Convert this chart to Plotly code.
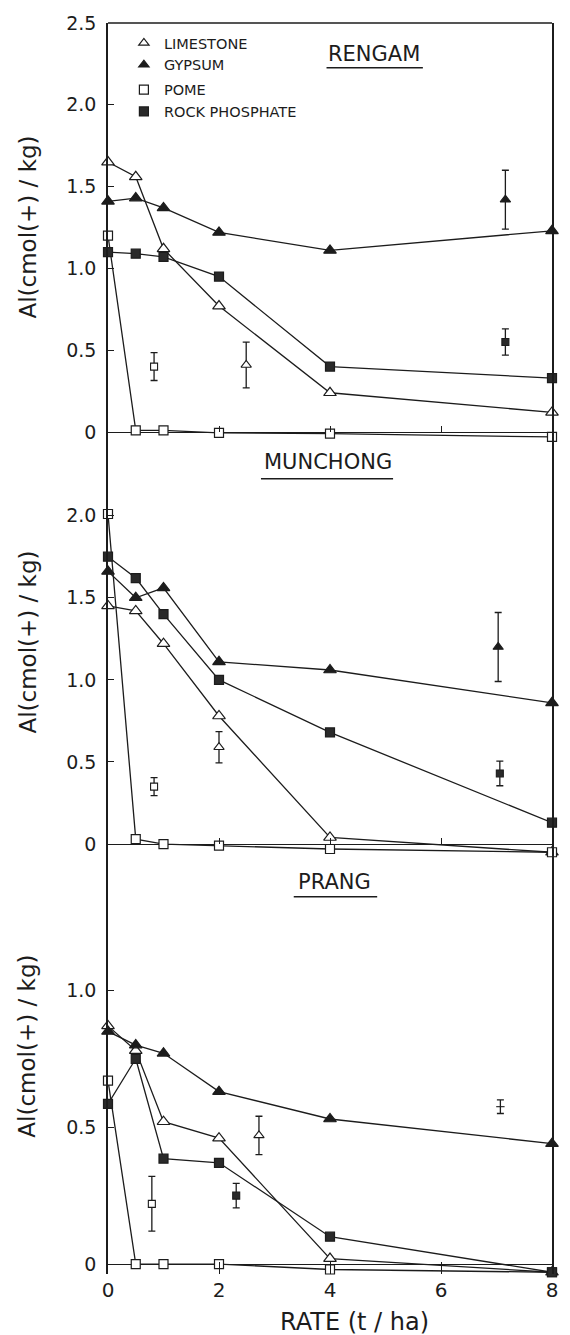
import plotly.graph_objects as go

# ---------------- data ----------------
rate = [0, 0.5, 1, 2, 4, 8]
series_names = ["LIMESTONE", "GYPSUM", "POME", "ROCK PHOSPHATE"]

rengam_limestone = [1.65, 1.56, 1.12, 0.77, 0.24, 0.12]
rengam_gypsum = [1.41, 1.43, 1.37, 1.22, 1.11, 1.23]
rengam_pome = [1.20, 0.01, 0.01, -0.005, -0.01, -0.03]
rengam_rock_phosphate = [1.10, 1.09, 1.07, 0.95, 0.40, 0.33]

munchong_limestone = [1.45, 1.42, 1.22, 0.78, 0.04, -0.05]
munchong_gypsum = [1.66, 1.50, 1.56, 1.11, 1.06, 0.86]
munchong_pome = [2.01, 0.03, 0.00, -0.01, -0.03, -0.05]
munchong_rock_phosphate = [1.75, 1.62, 1.40, 1.00, 0.68, 0.13]

prang_limestone = [0.87, 0.78, 0.52, 0.46, 0.02, -0.03]
prang_gypsum = [0.85, 0.80, 0.77, 0.63, 0.53, 0.44]
prang_pome = [0.67, 0.00, 0.00, 0.00, -0.02, -0.03]
prang_rock_phosphate = [0.585, 0.75, 0.385, 0.37, 0.10, -0.03]

# isolated points with error bars
rengam_bar_series = ["POME", "LIMESTONE", "GYPSUM", "ROCK PHOSPHATE"]
rengam_bar_x = [0.83, 2.49, 7.16, 7.16]
rengam_bar_y = [0.40, 0.41, 1.42, 0.55]
rengam_bar_err = [0.085, 0.14, 0.18, 0.08]

munchong_bar_series = ["POME", "LIMESTONE", "GYPSUM", "ROCK PHOSPHATE"]
munchong_bar_x = [0.83, 2.0, 7.03, 7.06]
munchong_bar_y = [0.35, 0.59, 1.20, 0.43]
munchong_bar_err = [0.055, 0.095, 0.21, 0.075]

prang_bar_series = ["POME", "ROCK PHOSPHATE", "LIMESTONE", "NONE"]
prang_bar_x = [0.79, 2.31, 2.72, 7.07]
prang_bar_y = [0.22, 0.25, 0.47, 0.575]
prang_bar_err = [0.10, 0.045, 0.07, 0.025]

rengam_ticks = [0, 0.5, 1.0, 1.5, 2.0, 2.5]
rengam_ticktext = ["0", "0.5", "1.0", "1.5", "2.0", "2.5"]
munchong_ticks = [0, 0.5, 1.0, 1.5, 2.0]
munchong_ticktext = ["0", "0.5", "1.0", "1.5", "2.0"]
prang_ticks = [0, 0.5, 1.0]
prang_ticktext = ["0", "0.5", "1.0"]
x_ticks = [0, 2, 4, 6, 8]
x_ticktext = ["0", "2", "4", "6", "8"]

# ---------------- layout geometry (pixels) ----------------
W, H = 570, 1335
LEFT, RIGHT = 108, 555
TOP, BOTTOM = 17, 1274
INK = "#1c1c1c"
FONT = "DejaVu Sans"


def yp(px):
    return (BOTTOM - px) / (BOTTOM - TOP)


def xp(px):
    return (px - LEFT) / (RIGHT - LEFT)


panels = [
    dict(title="RENGAM", top=17, bottom=440, zero=428, scale=164.4,
         data=[rengam_limestone, rengam_gypsum, rengam_pome, rengam_rock_phosphate],
         bs=rengam_bar_series, bx=rengam_bar_x, by=rengam_bar_y, be=rengam_bar_err,
         tv=rengam_ticks, tt=rengam_ticktext,
         tpos=(376, 48), ul=(328, 425, 62), ytitle=222),
    dict(title="MUNCHONG", top=440, bottom=855, zero=842, scale=165.0,
         data=[munchong_limestone, munchong_gypsum, munchong_pome, munchong_rock_phosphate],
         bs=munchong_bar_series, bx=munchong_bar_x, by=munchong_bar_y, be=munchong_bar_err,
         tv=munchong_ticks, tt=munchong_ticktext,
         tpos=(329, 458), ul=(262, 395, 475), ytitle=639),
    dict(title="PRANG", top=855, bottom=1274, zero=1264, scale=275.0,
         data=[prang_limestone, prang_gypsum, prang_pome, prang_rock_phosphate],
         bs=prang_bar_series, bx=prang_bar_x, by=prang_bar_y, be=prang_bar_err,
         tv=prang_ticks, tt=prang_ticktext,
         tpos=(336, 880), ul=(295, 379, 895), ytitle=1045),
]

style = {
    "LIMESTONE": dict(symbol="triangle-up", color="white", size=11),
    "GYPSUM": dict(symbol="triangle-up", color=INK, size=11),
    "POME": dict(symbol="square", color="white", size=9),
    "ROCK PHOSPHATE": dict(symbol="square", color="#2a2a2a", size=9),
    "NONE": dict(symbol="line-ew", color=INK, size=0),
}

fig = go.Figure()
annotations = []
shapes = []
layout_axes = {}

for i, p in enumerate(panels):
    n = i + 1
    xa = "x" if n == 1 else f"x{n}"
    ya = "y" if n == 1 else f"y{n}"
    for name, vals in zip(series_names, p["data"]):
        st = style[name]
        fig.add_trace(go.Scatter(
            x=rate, y=vals, mode="lines+markers", xaxis=xa, yaxis=ya,
            showlegend=False, cliponaxis=False,
            line=dict(color=INK, width=1.3),
            marker=dict(symbol=st["symbol"], size=st["size"], color=st["color"],
                        line=dict(color=INK, width=1.2)),
        ))
    for s, bx, by, be in zip(p["bs"], p["bx"], p["by"], p["be"]):
        st = style[s]
        fig.add_trace(go.Scatter(
            x=[bx], y=[by], mode="markers", xaxis=xa, yaxis=ya,
            showlegend=False, cliponaxis=False,
            marker=dict(symbol=st["symbol"], size=max(st["size"] - 2, 0) if st["size"] else 0,
                        color=st["color"], line=dict(color=INK, width=1.1)),
            error_y=dict(type="data", array=[be], visible=True, color=INK,
                         thickness=1.3, width=3.5),
        ))

    r0 = (p["zero"] - p["bottom"]) / p["scale"]
    r1 = (p["zero"] - p["top"]) / p["scale"]
    dom = [yp(p["bottom"]), yp(p["top"])]
    key_x = "xaxis" if n == 1 else f"xaxis{n}"
    key_y = "yaxis" if n == 1 else f"yaxis{n}"
    layout_axes[key_y] = dict(
        domain=dom, range=[r0, r1], anchor=xa, showgrid=False,
        zeroline=True, zerolinecolor=INK, zerolinewidth=1.3,
        showline=True, mirror=True, linecolor=INK, linewidth=1.6,
        ticks="inside", ticklen=6, tickcolor=INK, tickwidth=1.3,
        tickvals=p["tv"], ticktext=p["tt"], ticklabelstandoff=6,
        tickfont=dict(family=FONT, size=19, color=INK),
    )
    if n < 3:
        layout_axes[key_x] = dict(
            domain=[0, 1], range=[0, 8], anchor="free", position=yp(p["zero"]),
            showgrid=False, zeroline=False, showline=False,
            ticks="inside", ticklen=6, tickcolor=INK, tickwidth=1.2,
            tickvals=[2, 4, 6], showticklabels=False,
        )
    else:
        layout_axes[key_x] = dict(
            domain=[0, 1], range=[0, 8], anchor=ya,
            showgrid=False, zeroline=False, showline=False,
            ticks="inside", ticklen=12, tickcolor=INK, tickwidth=1.2,
            tickvals=x_ticks, ticktext=x_ticktext, ticklabelstandoff=2,
            tickfont=dict(family=FONT, size=20, color=INK),
        )

    tx, ty = p["tpos"]
    annotations.append(dict(
        text=p["title"], x=xp(tx), y=yp(ty), xref="paper", yref="paper",
        showarrow=False, xanchor="center", yanchor="middle",
        font=dict(family=FONT, size=21, color=INK),
    ))
    ux0, ux1, uy = p["ul"]
    shapes.append(dict(type="line", xref="paper", yref="paper",
                       x0=xp(ux0), x1=xp(ux1), y0=yp(uy), y1=yp(uy),
                       line=dict(color=INK, width=1.5)))
    annotations.append(dict(
        text="Al(cmol(+) / kg)", x=xp(27), y=yp(p["ytitle"]), xref="paper", yref="paper",
        showarrow=False, textangle=-90, xanchor="center", yanchor="middle",
        font=dict(family=FONT, size=23, color=INK),
    ))

# top frame line
shapes.append(dict(type="line", xref="paper", yref="paper", x0=0, x1=1, y0=1, y1=1,
                   line=dict(color=INK, width=1.6)))

annotations.append(dict(
    text="RATE (t / ha)", x=xp(356), y=yp(1322), xref="paper", yref="paper",
    showarrow=False, xanchor="center", yanchor="middle",
    font=dict(family=FONT, size=24, color=INK),
))

# legend entries (markers only)
for name, grp in zip(series_names, ["a", "a", "b", "b"]):
    st = style[name]
    fig.add_trace(go.Scatter(
        x=[None], y=[None], mode="markers", name=name, legendgroup=grp,
        marker=dict(symbol=st["symbol"], size=9, color=st["color"],
                    line=dict(color=INK, width=1.2)),
    ))

fig.update_layout(
    width=W, height=H,
    margin=dict(l=LEFT, r=W - RIGHT, t=TOP, b=H - BOTTOM),
    paper_bgcolor="white", plot_bgcolor="white",
    showlegend=True,
    legend=dict(x=xp(124), y=yp(21), xanchor="left", yanchor="top",
                bgcolor="rgba(0,0,0,0)", traceorder="grouped", tracegroupgap=3,
                font=dict(family=FONT, size=14.5, color=INK), itemwidth=30),
    annotations=annotations, shapes=shapes,
    **layout_axes,
)

fig.write_html("out.html")
